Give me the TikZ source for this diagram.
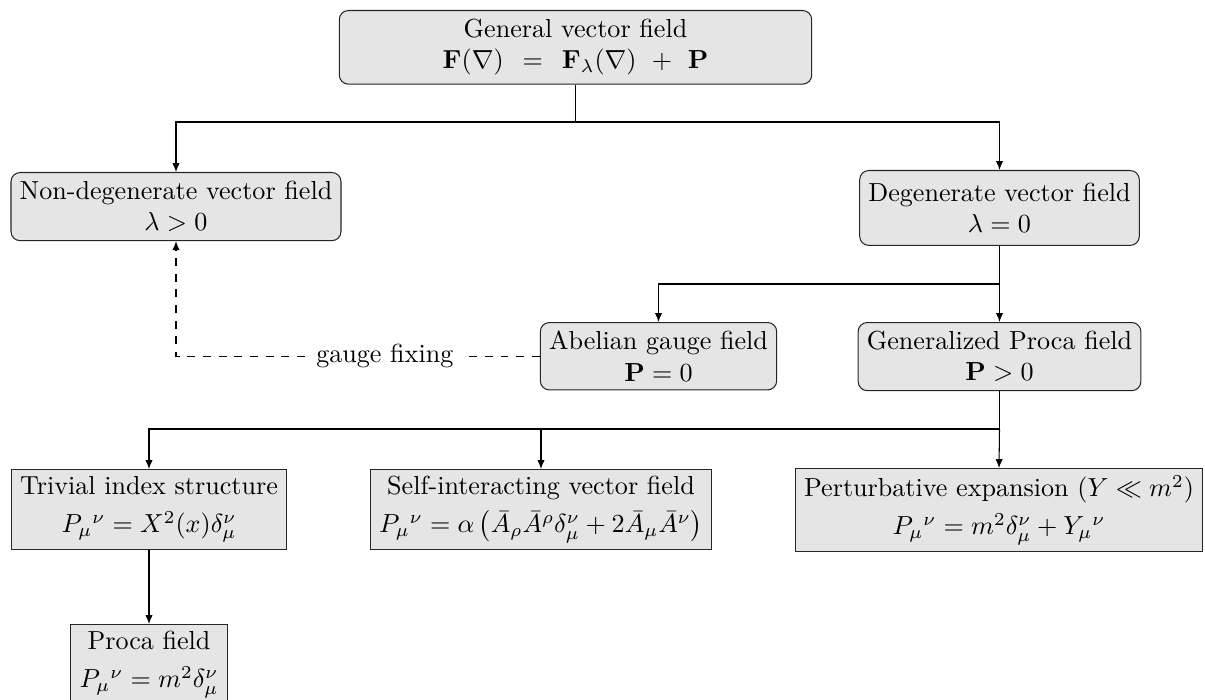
\documentclass[tikz,border=0pt]{standalone}
\usetikzlibrary{arrows.meta}
\begin{document}
\begin{tikzpicture}[x=0.38314pt,y=-0.38314pt,
  rbox/.style={draw=black!85, fill=black!10, rounded corners=3.5pt, align=center, anchor=north},
  sbox/.style={draw=black!85, fill=black!10, align=center, anchor=north, inner ysep=2.6pt},
  arr/.style={-{Latex[length=3.4pt,width=2.8pt]}},
  lab/.style={fill=white, inner sep=3.5pt}]
\useasboundingbox (0,0) rectangle (1205,700);
\node[rbox, minimum width=181pt] (gen) at (575.5,10) {General vector field\\ $\mathbf{F}(\nabla)\mathrel{\kern4.5pt=\kern4.5pt}\mathbf{F}_\lambda(\nabla) \mathbin{\kern3.7pt+\kern3.7pt} \mathbf{P}$};
\node[rbox] (nondeg) at (176,172) {Non-degenerate vector field\\ $\lambda > 0$};
\node[rbox, minimum height=28.7pt] (deg) at (999.5,170) {Degenerate vector field\\ $\lambda = 0$};
\node[rbox] (abel) at (658.5,322) {Abelian gauge field\\ $\mathbf{P} = 0$};
\node[rbox] (genproca) at (999.5,322) {Generalized Proca field\\ $\mathbf{P} > 0$};
\node[sbox] (trivial) at (149,469) {Trivial index structure\\[2.6pt] $P_\mu{}^\nu = X^2(x)\delta_\mu^\nu$};
\node[sbox] (selfint) at (541,469) {Self-interacting vector field\\[2.6pt] $P_\mu{}^\nu = \alpha\left(\bar{A}_\rho\bar{A}^\rho\delta_\mu^\nu + 2\bar{A}_\mu\bar{A}^\nu\right)$};
\node[sbox] (pert) at (999,468) {Perturbative expansion ($Y \ll m^2$)\\[2.6pt] $P_\mu{}^\nu = m^2\delta_\mu^\nu + Y_\mu{}^\nu$};
\node[sbox] (proca) at (149,624) {Proca field\\[2.6pt] $P_\mu{}^\nu = m^2\delta_\mu^\nu$};

\coordinate (j1) at (575.5,122);
\draw (gen.south) -- (j1);
\draw[arr] (j1) -| (nondeg.north);
\draw[arr] (j1) -| (deg.north);

\coordinate (j2) at (999.5,284);
\draw[arr] (deg.south) -- (genproca.north);
\draw[arr] (j2) -| (abel.north);

\draw[arr, dashed] (abel.west) -| node[pos=0.213, lab] {gauge fixing} (nondeg.south);

\coordinate (j3) at (999.5,429);
\draw (genproca.south) -- (j3);
\draw[arr] (j3) -| (trivial.north);
\draw[arr] (j3) -| (selfint.north);
\draw[arr] (j3) -- (pert.north);
\draw[arr] (trivial.south) -- (proca.north);
\end{tikzpicture}
\end{document}
